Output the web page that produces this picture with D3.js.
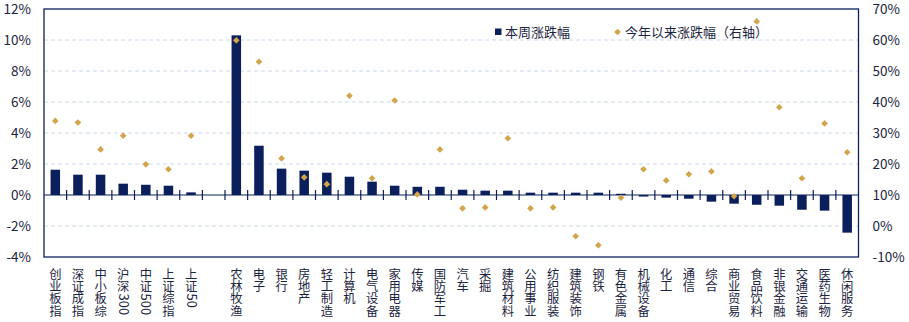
<!DOCTYPE html>
<html>
<head>
<meta charset="utf-8">
<script src="https://cdn.jsdelivr.net/npm/d3@7"></script>
<style>
  body { margin: 0; background: #fff; }
  text { font-family: "Noto Sans CJK SC", "Noto Sans", sans-serif; fill: #1b2440; }
</style>
</head>
<body>
<div id="chart"></div>
<script>
// categories ("" is the empty slot between indices and industries)
var categories = ["创业板指", "深证成指", "中小板综", "沪深300", "中证500", "上证综指", "上证50", "",
  "农林牧渔", "电子", "银行", "房地产", "轻工制造", "计算机", "电气设备", "家用电器", "传媒", "国防军工",
  "汽车", "采掘", "建筑材料", "公用事业", "纺织服装", "建筑装饰", "钢铁", "有色金属", "机械设备", "化工",
  "通信", "综合", "商业贸易", "食品饮料", "非银金融", "交通运输", "医药生物", "休闲服务"];

// weekly change (%), left axis
var weekly = [1.63, 1.31, 1.31, 0.73, 0.66, 0.6, 0.17, null,
  10.3, 3.18, 1.7, 1.57, 1.44, 1.18, 0.86, 0.6, 0.53, 0.53,
  0.34, 0.28, 0.28, 0.15, 0.15, 0.15, 0.15, 0.08, -0.1, -0.17,
  -0.24, -0.43, -0.56, -0.63, -0.69, -0.95, -1.01, -2.43];

// year-to-date change (%), right axis
var ytd = [33.9, 33.4, 24.7, 29.1, 19.9, 18.3, 29.1, null,
  59.9, 53.0, 21.8, 15.7, 13.5, 42.0, 15.4, 40.5, 10.2, 24.7,
  5.7, 6.0, 28.3, 5.7, 6.0, -3.3, -6.2, 9.1, 18.3, 14.7,
  16.7, 17.6, 9.6, 66.0, 38.3, 15.4, 33.1, 23.8];

var leftTicks = [-4, -2, 0, 2, 4, 6, 8, 10, 12];
var rightTicks = [-10, 0, 10, 20, 30, 40, 50, 60, 70];

var svgWidth = 909;
var svgHeight = 322;
var margin = {top: 9, right: 50.5, bottom: 65, left: 44};
var width = svgWidth - margin.left - margin.right;
var height = svgHeight - margin.top - margin.bottom;

var navy = "#0b1f5c";
var gold = "#d3a449";
var ink = "#1b2440";

var svg = d3.select("#chart").append("svg")
  .attr("width", svgWidth)
  .attr("height", svgHeight);

var g = svg.append("g")
  .attr("transform", `translate(${margin.left}, ${margin.top})`);

var x = d3.scaleBand()
  .domain(d3.range(categories.length))
  .range([0, width])
  .padding(0);

var yLeft = d3.scaleLinear().domain([-4, 12]).range([height, 0]);
var yRight = d3.scaleLinear().domain([-10, 70]).range([height, 0]);

// dashed grid lines
g.selectAll(".grid")
  .data(leftTicks.filter(d => d != 0 && d != -4 && d != 12))
  .enter().append("line")
  .attr("x1", 0).attr("x2", width)
  .attr("y1", d => yLeft(d)).attr("y2", d => yLeft(d))
  .attr("stroke", "#cbd8ea")
  .attr("stroke-dasharray", "4,3");

// left axis labels
var leftAxis = d3.axisLeft(yLeft).tickValues(leftTicks).tickSize(0).tickPadding(13)
  .tickFormat(d => d + "%");
g.append("g").call(leftAxis)
  .call(s => s.select(".domain").remove())
  .selectAll("text").style("font-size", "13.5px").attr("fill", ink);

// right axis labels
var rightAxis = d3.axisRight(yRight).tickValues(rightTicks).tickSize(0).tickPadding(14)
  .tickFormat(d => d + "%");
g.append("g").attr("transform", `translate(${width}, 0)`).call(rightAxis)
  .call(s => s.select(".domain").remove())
  .selectAll("text").style("font-size", "13.5px").attr("fill", ink);

// bars
var barW = 9.5;
g.selectAll(".bar")
  .data(weekly.map((v, i) => ({v: v, i: i})).filter(d => d.v !== null))
  .enter().append("rect")
  .attr("x", d => x(d.i) + x.bandwidth() / 2 - barW / 2)
  .attr("y", d => yLeft(Math.max(0, d.v)))
  .attr("width", barW)
  .attr("height", d => Math.abs(yLeft(d.v) - yLeft(0)))
  .attr("fill", navy);

// zero line with cross ticks at band boundaries
var y0 = yLeft(0);
g.append("line")
  .attr("x1", 0).attr("x2", width)
  .attr("y1", y0).attr("y2", y0)
  .attr("stroke", navy).attr("stroke-width", 1.2);
g.selectAll(".xtick")
  .data(d3.range(1, categories.length))
  .enter().append("line")
  .attr("x1", d => x(d)).attr("x2", d => x(d))
  .attr("y1", y0 - 5).attr("y2", y0 + 5)
  .attr("stroke", navy).attr("stroke-width", 1.2);

// diamonds
var diamond = d3.symbol().type(d3.symbolSquare).size(22);
g.selectAll(".pt")
  .data(ytd.map((v, i) => ({v: v, i: i})).filter(d => d.v !== null))
  .enter().append("path")
  .attr("d", diamond)
  .attr("transform", d => `translate(${x(d.i) + x.bandwidth() / 2}, ${yRight(d.v)}) rotate(45)`)
  .attr("fill", gold);

// plot frame
g.append("rect")
  .attr("x", 0).attr("y", 0)
  .attr("width", width).attr("height", height)
  .attr("fill", "none")
  .attr("stroke", navy).attr("stroke-width", 1.3);

// vertical category labels: one CJK char per line, digit runs turned sideways
var labelTop = height + 11;
categories.forEach(function (name, i) {
  if (!name) return;
  var cx = x(i) + x.bandwidth() / 2;
  var cursor = labelTop;
  var tokens = name.match(/[0-9A-Za-z]+|./g);
  tokens.forEach(function (t) {
    if (/^[0-9A-Za-z]+$/.test(t)) {
      g.append("text")
        .attr("transform", `translate(${cx - 4.5}, ${cursor + 1}) rotate(90)`)
        .style("font-size", "13px")
        .attr("fill", ink)
        .text(t);
      cursor += t.length * 8;
    } else {
      g.append("text")
        .attr("x", cx)
        .attr("y", cursor + 10.8)
        .attr("text-anchor", "middle")
        .style("font-size", "12.3px")
        .attr("fill", ink)
        .text(t);
      cursor += 12.3;
    }
  });
});

// legend
var legend = svg.append("g");
legend.append("rect")
  .attr("x", 495).attr("y", 28.5).attr("width", 6.5).attr("height", 6.5)
  .attr("fill", navy);
legend.append("text")
  .attr("x", 505).attr("y", 36.5)
  .style("font-size", "13px").attr("fill", ink)
  .text("本周涨跌幅");
legend.append("path")
  .attr("d", diamond)
  .attr("transform", "translate(617.5, 32) rotate(45)")
  .attr("fill", gold);
legend.append("text")
  .attr("x", 625).attr("y", 36.5)
  .style("font-size", "13px").attr("fill", ink)
  .text("今年以来涨跌幅（右轴）");
</script>
</body>
</html>
